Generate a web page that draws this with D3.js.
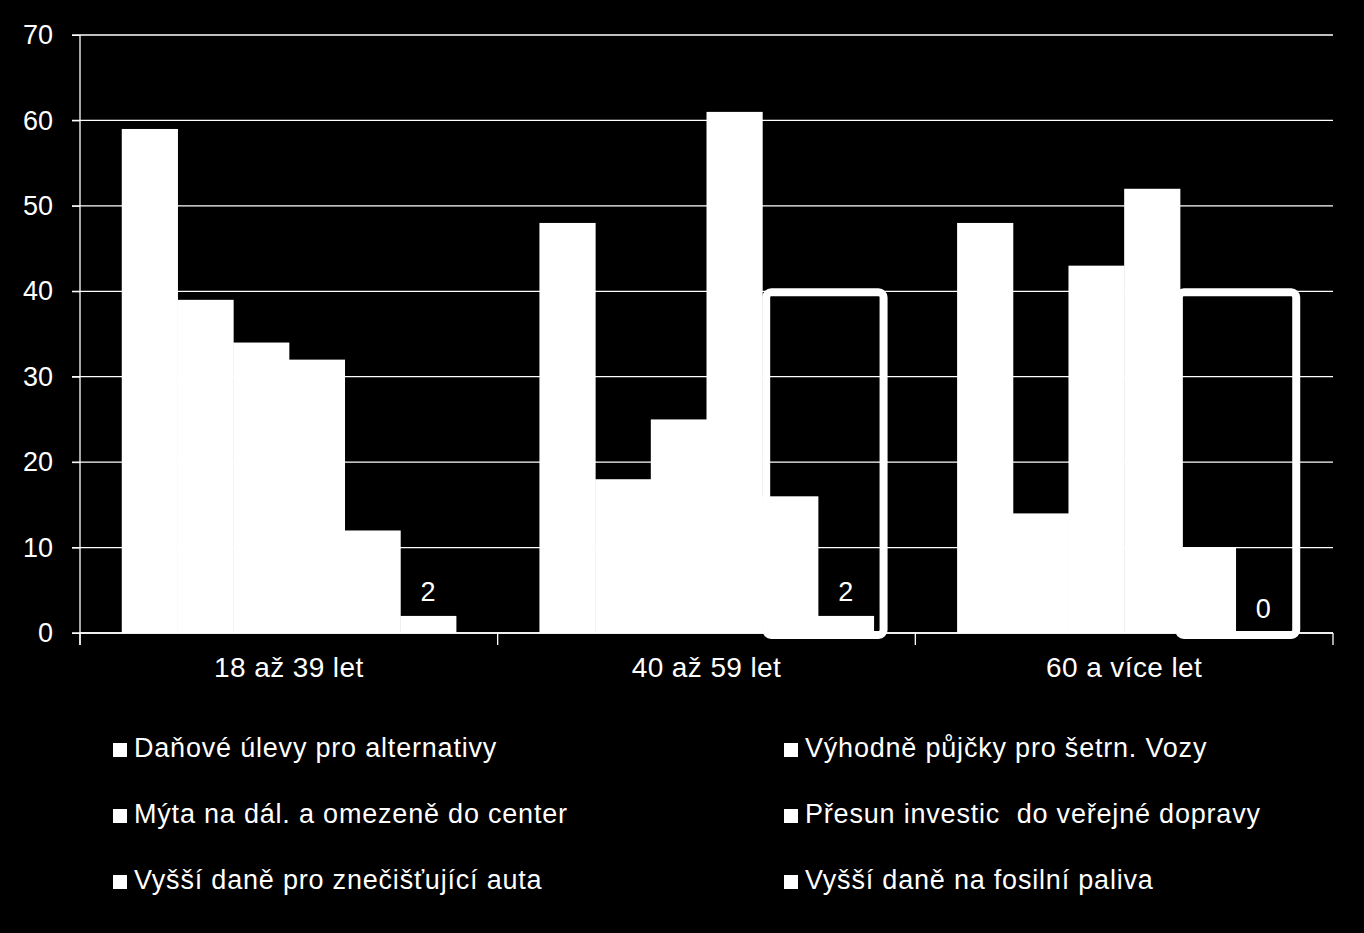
<!DOCTYPE html>
<html>
<head>
<meta charset="utf-8">
<script src="https://cdn.jsdelivr.net/npm/d3@7"></script>
<style>
  body { margin: 0; background: #000; }
  text { font-family: "Liberation Sans", Arial, sans-serif; fill: #fff; }
</style>
</head>
<body>
<svg id="chart" width="1364" height="933"></svg>
<script>
// data
let groups = ["18 až 39 let", "40 až 59 let", "60 a více let"];
let series = [
	"Daňové úlevy pro alternativy",
	"Výhodně půjčky pro šetrn. Vozy",
	"Mýta na dál. a omezeně do center",
	"Přesun investic  do veřejné dopravy",
	"Vyšší daně pro znečišťující auta",
	"Vyšší daně na fosilní paliva"
];
let values18 = [59, 39, 34, 32, 12, 2];
let values40 = [48, 18, 25, 61, 16, 2];
let values60 = [48, 14, 43, 52, 10, 0];
let yTicks = [0, 10, 20, 30, 40, 50, 60, 70];
// groups that get the highlight box round the last two bars
let highlighted = ["40 až 59 let", "60 a více let"];

let allValues = [values18, values40, values60];

let svg = d3.select("#chart");
let plotLeft = 80, plotRight = 1333, plotTop = 35, plotBottom = 633;

let x0 = d3.scaleBand().domain(groups).range([plotLeft, plotRight]);
let x1 = d3.scaleBand().domain(d3.range(series.length))
	.range([0, x0.bandwidth()]).paddingOuter(0.75);
let y = d3.scaleLinear().domain([0, 70]).range([plotBottom, plotTop]);

// gridlines
svg.append("g")
	.selectAll("line")
	.data(yTicks)
	.join("line")
	.attr("x1", plotLeft - 8).attr("x2", plotRight)
	.attr("y1", d => y(d)).attr("y2", d => y(d))
	.attr("stroke", "#fff").attr("stroke-width", 1.3);

// y axis
let yAxis = svg.append("g")
	.attr("transform", `translate(${plotLeft},0)`)
	.call(d3.axisLeft(y).tickValues(yTicks).tickSize(8).tickPadding(19));
yAxis.select(".domain").remove();
yAxis.selectAll("line").attr("stroke", "#fff");
yAxis.selectAll("text").attr("font-size", 27).attr("fill", "#fff")
	.style("font-family", "Liberation Sans, Arial, sans-serif");
svg.append("line")
	.attr("x1", plotLeft).attr("x2", plotLeft)
	.attr("y1", plotTop).attr("y2", plotBottom + 12)
	.attr("stroke", "#fff").attr("stroke-width", 1.3);

// bars
let g = svg.append("g")
	.selectAll("g")
	.data(groups)
	.join("g")
	.attr("transform", d => `translate(${x0(d)},0)`);

g.selectAll("rect")
	.data((d, i) => allValues[i].map((v, j) => ({ v: v, j: j })))
	.join("rect")
	.attr("x", d => x1(d.j))
	.attr("width", x1.bandwidth() + 0.5)
	.attr("y", d => y(d.v))
	.attr("height", d => y(0) - y(d.v))
	.attr("fill", "#fff");

// value label for the last series only
g.append("text")
	.attr("x", x1(series.length - 1) + x1.bandwidth() / 2)
	.attr("y", (d, i) => y(allValues[i][series.length - 1]) - 15)
	.attr("text-anchor", "middle")
	.attr("font-size", 27)
	.text((d, i) => allValues[i][series.length - 1]);

// x axis
svg.append("line")
	.attr("x1", plotLeft).attr("x2", plotRight)
	.attr("y1", plotBottom).attr("y2", plotBottom)
	.attr("stroke", "#fff").attr("stroke-width", 1.3);
svg.append("g")
	.selectAll("line")
	.data(groups.concat(["end"]))
	.join("line")
	.attr("x1", (d, i) => plotLeft + i * x0.bandwidth())
	.attr("x2", (d, i) => plotLeft + i * x0.bandwidth())
	.attr("y1", plotBottom).attr("y2", plotBottom + 12)
	.attr("stroke", "#fff").attr("stroke-width", 1.3);
svg.append("g")
	.selectAll("text")
	.data(groups)
	.join("text")
	.attr("x", d => x0(d) + x0.bandwidth() / 2)
	.attr("y", 677)
	.attr("text-anchor", "middle")
	.attr("font-size", 28)
	.attr("letter-spacing", 0.4)
	.text(d => d);

// highlight boxes
svg.append("g")
	.selectAll("rect")
	.data(highlighted)
	.join("rect")
	.attr("x", d => x0(d) + x1(series.length - 2) + (d == "40 až 59 let" ? 4 : -1))
	.attr("width", x1.bandwidth() * 2 + 6)
	.attr("y", y(40) + 1)
	.attr("height", y(0) - y(40) + 1)
	.attr("rx", 5)
	.attr("fill", "none")
	.attr("stroke", "#fff")
	.attr("stroke-width", 8);

// legend
let legendX = [113, 784];
let legendY = [757, 823, 889];
let legend = svg.append("g")
	.selectAll("g")
	.data(series)
	.join("g")
	.attr("transform", (d, i) => `translate(${legendX[i % 2]},${legendY[Math.floor(i / 2)]})`);
legend.append("rect")
	.attr("x", 0).attr("y", -14)
	.attr("width", 14).attr("height", 14)
	.attr("fill", "#fff");
legend.append("text")
	.attr("x", 21).attr("y", 0)
	.attr("font-size", 27)
	.attr("letter-spacing", 0.8)
	.style("white-space", "pre")
	.text(d => d);
</script>
</body>
</html>
